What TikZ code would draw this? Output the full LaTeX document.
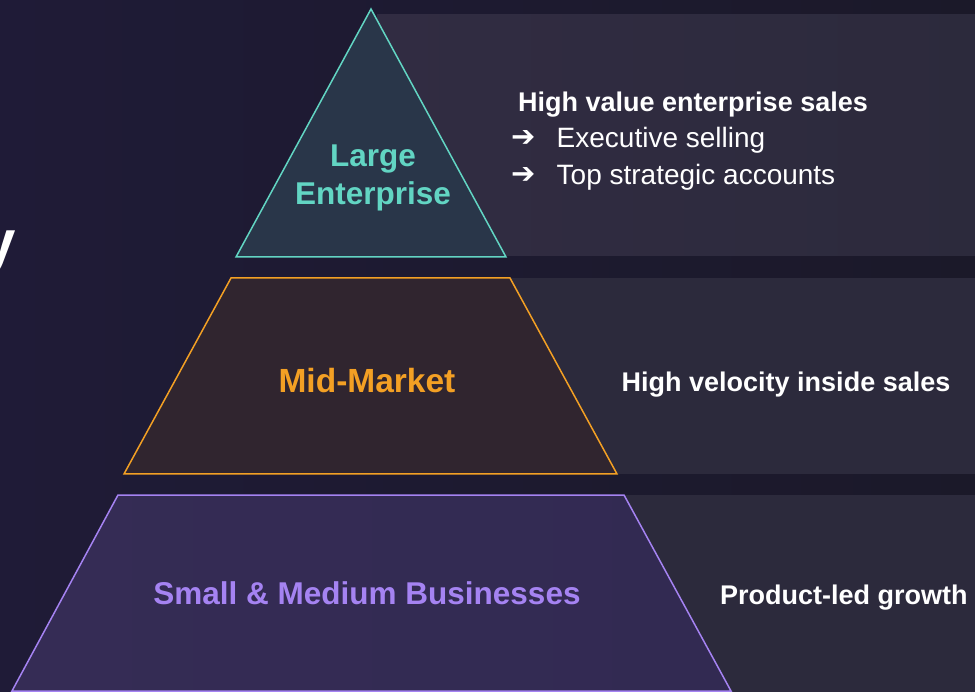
\documentclass[tikz,border=0pt]{standalone}
\usepackage{fontspec}
\setmainfont{Liberation Sans}
\newfontfamily\symfont{DejaVu Sans}

% palette
\definecolor{bgleft}{HTML}{1F1B37}
\definecolor{bgright}{HTML}{1B1929}
\definecolor{band}{HTML}{2C2A3C}
\definecolor{bandlight}{HTML}{312C42}
\definecolor{tealline}{HTML}{62D5C3}
\definecolor{tealfill}{HTML}{293649}
\definecolor{orangeline}{HTML}{F3A024}
\definecolor{orangefill}{HTML}{30252F}
\definecolor{purpleline}{HTML}{A583F2}
\definecolor{purplefill}{HTML}{322A52}
\definecolor{purplefillL}{HTML}{352C55}

\tikzset{
  tier/.style={line width=1.5pt, line join=miter},
  tierlabel/.style={inner sep=0pt, anchor=base, font=\bfseries\fontsize{31.5}{36}\selectfont},
  notehead/.style={inner sep=0pt, anchor=base west, text=white, font=\bfseries\fontsize{27}{32}\selectfont},
  noteitem/.style={inner sep=0pt, anchor=base west, text=white, font=\fontsize{28}{33}\selectfont},
  bullet/.style={inner sep=0pt, anchor=center, text=white, font=\symfont\fontsize{29}{33}\selectfont},
}

\begin{document}
\begin{tikzpicture}[x=1pt,y=-1pt]
  \useasboundingbox (0,0) rectangle (975,692);
  \clip (0,0) rectangle (975,692);

  % background
  \shade[left color=bgleft, right color=bgright] (0,0) rectangle (975,692);

  % side bands carrying the descriptions
  \shade[left color=bandlight, right color=band] (377,15) rectangle (990,256);
  \fill[band] (500,278) rectangle (990,474);
  \fill[band] (615,495) rectangle (990,700);

  % pyramid tiers
  \filldraw[tier, draw=tealline, fill=tealfill]
    (371,9) -- (506,257) -- (236,257) -- cycle;
  \filldraw[tier, draw=orangeline, fill=orangefill]
    (231,278) -- (510,278) -- (617,474) -- (124,474) -- cycle;
  \shade[left color=purplefillL, right color=purplefill]
    (118,495) -- (624,495) -- (731,691) -- (12,691) -- cycle;
  \draw[tier, draw=purpleline]
    (118,495) -- (624,495) -- (731,691) -- (12,691) -- cycle;

  % title fragment at the left edge
  \node[inner sep=0pt, anchor=base west, text=white,
        font=\bfseries\fontsize{60}{70}\selectfont] (title) at (-18,263) {y};

  % tier labels
  \node[tierlabel, text=tealline] (large) at (373,166.5) {Large};
  \node[tierlabel, text=tealline] (enterprise) at (373,205) {Enterprise};
  \node[tierlabel, text=orangeline, font=\bfseries\fontsize{33.5}{38}\selectfont] (mid) at (367,393) {Mid-Market};
  \node[tierlabel, text=purpleline] (smb) at (367,604) {Small \& Medium Businesses};

  % descriptions
  \node[notehead] (enthead) at (518,111.5) {High value enterprise sales};
  \node[bullet] (arrA) at (524,139) {➔};
  \node[noteitem] (exec) at (556.5,148) {Executive selling};
  \node[bullet] (arrB) at (524,176) {➔};
  \node[noteitem] (top) at (556.5,185) {Top strategic accounts};
  \node[notehead] (midnote) at (621.5,391.5) {High velocity inside sales};
  \node[notehead] (smbnote) at (720,604) {Product-led growth};
\end{tikzpicture}
\end{document}
